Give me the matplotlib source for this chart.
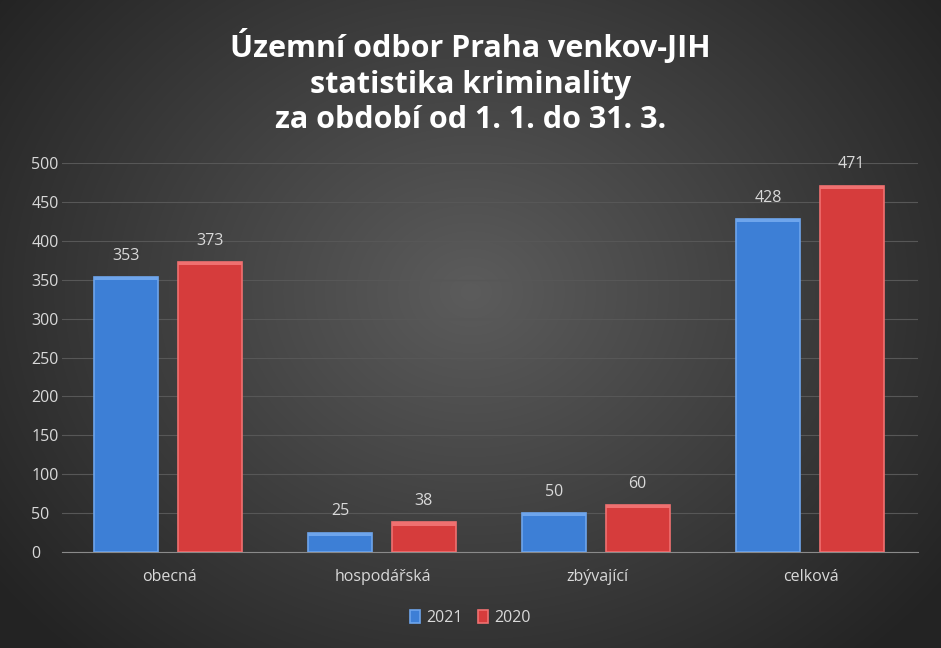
import numpy as np
import matplotlib
matplotlib.use("Agg")
import matplotlib.pyplot as plt

categories = ["obecná", "hospodářská", "zbývající", "celková"]
series_names = ["2021", "2020"]
values_2021 = [353, 25, 50, 428]
values_2020 = [373, 38, 60, 471]
title = "Územní odbor Praha venkov-JIH\nstatistika kriminality\nza období od 1. 1. do 31. 3."

plt.rcParams['font.family'] = ['Open Sans', 'DejaVu Sans']
W, H = 941, 648
fig = plt.figure(figsize=(W/100, H/100), dpi=100)

bg = fig.add_axes([0, 0, 1, 1], zorder=-10)
yy, xx = np.mgrid[0:H, 0:W]
r = np.sqrt(((xx - W/2)/(W*0.62))**2 + ((yy - H*0.45)/(H*0.75))**2)
r = np.clip(r, 0, 1)
c0 = np.array([0x5c, 0x5c, 0x5c])/255
c1 = np.array([0x24, 0x24, 0x24])/255
img = c0[None, None, :]*(1-r[..., None]) + c1[None, None, :]*r[..., None]
bg.imshow(img, aspect='auto', extent=[0, 1, 0, 1])
bg.axis('off')

ax = fig.add_axes([62/W, 1-552/H, (918-62)/W, (552-163)/H])
ax.set_facecolor('none')
x = np.arange(len(categories))
bw = 0.30
cols = [("#3d7fd6", "#6ea5ec"), ("#d63c3c", "#f07070")]
for i, (vals, (fc, hc)) in enumerate(zip([values_2021, values_2020], cols)):
    off = -0.2 if i == 0 else 0.19
    ax.bar(x + off, vals, bw, color=fc, edgecolor=hc, linewidth=1.2, zorder=3, label=series_names[i])
    ax.bar(x + off, [4]*len(vals), bw, bottom=np.array(vals)-4, color=hc, zorder=4)
    for xi, v in zip(x + off, vals):
        ax.text(xi, v + 17, str(v), ha='center', va='bottom', color='#d9d9d9', fontsize=11.5)

ax.set_xlim(-0.5, 3.5)
ax.set_ylim(0, 500)
ax.set_yticks(range(0, 501, 50))
ax.yaxis.grid(True, color='#575757', linewidth=0.8, zorder=0)
ax.set_xticks(x)
ax.set_xticklabels(categories)
ax.tick_params(colors='#d9d9d9', labelsize=11.5, length=0)
ax.tick_params(axis='x', pad=12)
ax.tick_params(axis='y', pad=22)
for s in ['top', 'right', 'left']:
    ax.spines[s].set_visible(False)
ax.spines['bottom'].set_color('#8a8a8a')
for lbl in ax.get_yticklabels():
    lbl.set_horizontalalignment('left')

fig.text(0.5, 1-82/H, title, ha='center', va='center', color='white', fontsize=22,
         fontweight='bold', linespacing=1.25)

leg = fig.legend(loc='center', bbox_to_anchor=(0.5, 1-618/H), ncol=2, frameon=False,
                 fontsize=11.5, handlelength=0.6, handleheight=0.8, columnspacing=1.0, handletextpad=0.4)
for t in leg.get_texts():
    t.set_color('#d9d9d9')

fig.savefig('out.png', dpi=100)
